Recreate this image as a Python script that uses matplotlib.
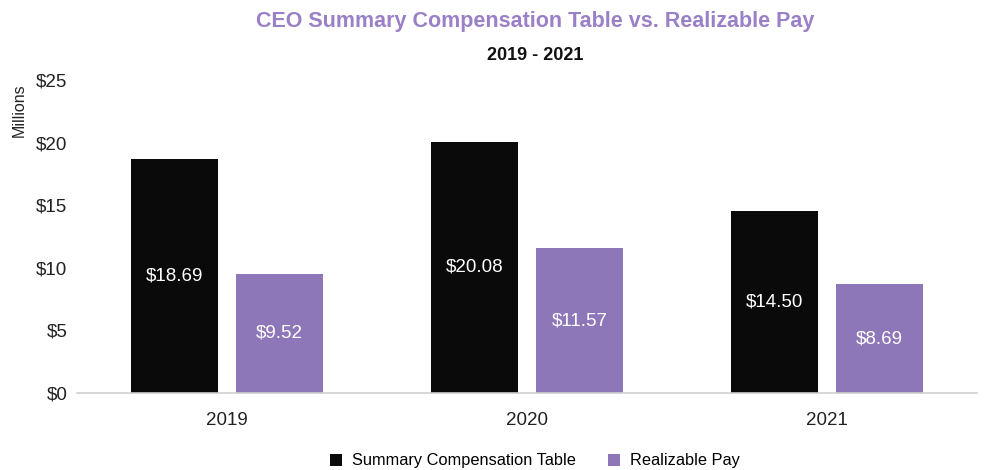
import matplotlib
matplotlib.use("Agg")
import matplotlib.pyplot as plt
import numpy as np

plt.rcParams['font.family'] = ['Liberation Sans', 'DejaVu Sans']

years = ["2019", "2020", "2021"]
sct = [18.69, 20.08, 14.50]
realizable = [9.52, 11.57, 8.69]
series_names = ["Summary Compensation Table", "Realizable Pay"]
yticks = [0, 5, 10, 15, 20, 25]

black = "#0a0a0a"
purple = "#8e77b8"
title_purple = "#9a80c6"

fig = plt.figure(figsize=(9.92, 4.70), dpi=100)
ax = fig.add_axes([77/992, 77/470, 900/992, 313/470])

x = np.arange(len(years))
w = 0.293
off = 0.175
b1 = ax.bar(x - off, sct, w, color=black, label=series_names[0])
b2 = ax.bar(x + off, realizable, w, color=purple, label=series_names[1])

for bars, vals in ((b1, sct), (b2, realizable)):
    for r, v in zip(bars, vals):
        ax.text(r.get_x() + r.get_width()/2, v/2, f"${v:.2f}", ha="center", va="center",
                color="white", fontsize=13.5)

ax.set_xlim(-0.5, 2.5)
ax.set_ylim(0, 25)
ax.set_yticks(yticks)
ax.set_yticklabels([f"${t}" for t in yticks], fontsize=13.5)
ax.set_xticks(x)
ax.set_xticklabels(years, fontsize=13.5)
ax.tick_params(axis="both", length=0, colors="#222222")
ax.tick_params(axis="x", pad=14)
ax.tick_params(axis="y", pad=7)
for s in ("top", "right", "left"):
    ax.spines[s].set_visible(False)
ax.spines["bottom"].set_color("#d0d0d0")
ax.spines["bottom"].set_linewidth(1.2)

fig.text(19/992, 1 - 110/470, "Millions", rotation=90, ha="center", va="center", fontsize=11.5, color="#222222")
fig.text(535/992, 1 - 22/470, "CEO Summary Compensation Table vs. Realizable Pay", ha="center", va="center",
         fontsize=15.5, fontweight="bold", color=title_purple)
fig.text(535/992, 1 - 55/470, "2019 - 2021", ha="center", va="center", fontsize=13, fontweight="bold", color="#111111")

fig.legend(handles=[b1, b2], loc="center", bbox_to_anchor=(535/992, 1 - 461/470), ncol=2, frameon=False,
           fontsize=11.8, handlelength=0.7, handleheight=0.7, columnspacing=2.0, handletextpad=0.6)

fig.savefig("out.png", dpi=100)
